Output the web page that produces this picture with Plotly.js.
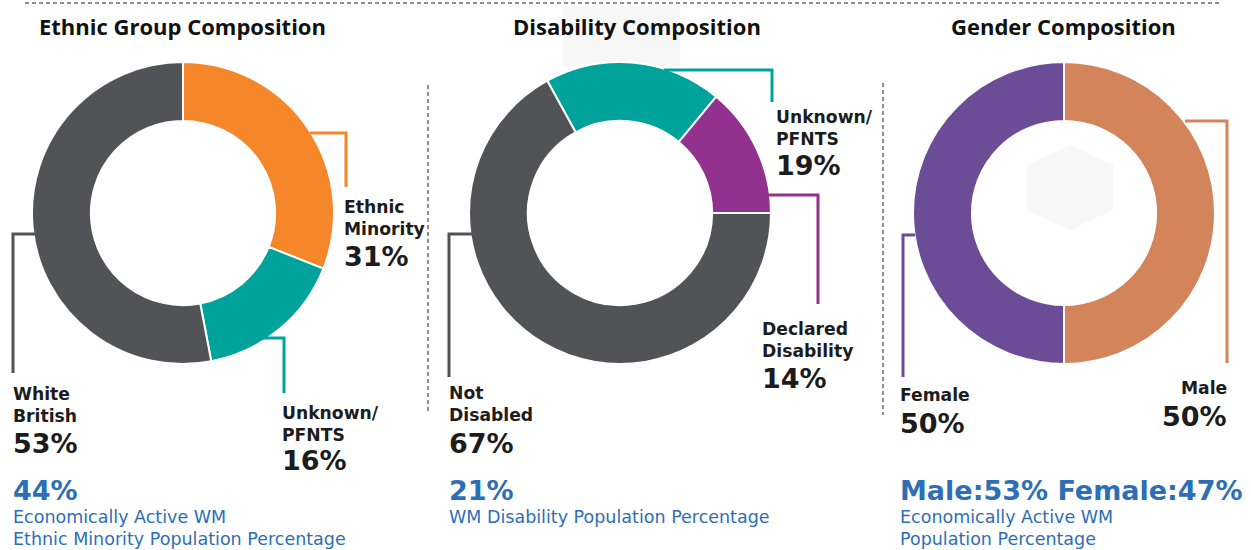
<!DOCTYPE html>
<html><head><meta charset="utf-8">
<script src="https://cdn.plot.ly/plotly-3.0.1.min.js"></script>
<style>html,body{margin:0;padding:0;background:#fff;}#chart{width:1251px;height:550px;}</style>
</head><body><div id="chart"></div>
<script>
// ---- data ----
const chartTitles = ["Ethnic Group Composition", "Disability Composition", "Gender Composition"];

const ethnicLabels = ["Ethnic<br>Minority", "Unknown/<br>PFNTS", "White<br>British"];
const ethnicValues = [31, 16, 53];
const ethnicColors = ["#F5862A", "#00A39B", "#525357"];

const disabilityLabels = ["Unknown/<br>PFNTS", "Declared<br>Disability", "Not<br>Disabled"];
const disabilityValues = [19, 14, 67];
const disabilityColors = ["#00A39B", "#93318E", "#525357"];

const genderLabels = ["Male", "Female"];
const genderValues = [50, 50];
const genderColors = ["#D4845B", "#6B4C97"];

const headlineValues = ["44%", "21%", "Male:53% Female:47%"];
const headlineNotes = [["Economically Active WM", "Ethnic Minority Population Percentage"],
                       ["WM Disability Population Percentage"],
                       ["Economically Active WM", "Population Percentage"]];

// ---- layout helpers ----
const W = 1251, H = 550;
const px = x => x / W, py = y => 1 - y / H;
const TITLE_FONT = "Open Sans", LABEL_FONT = "DejaVu Sans";
const DARK = "#1c1c1c", BLUE = "#2E6EB5";

function pie(labels, values, colors, cx, rotation) {
  return {
    type: "pie", labels: labels, values: values, sort: false, direction: "clockwise",
    rotation: rotation, hole: 0.61, textinfo: "none", hoverinfo: "none", showlegend: false,
    marker: {colors: colors, line: {color: "#ffffff", width: 2}},
    domain: {x: [px(cx - 151), px(cx + 151)], y: [py(364), py(62)]}
  };
}
// disability: purple slice ends at 3 o'clock
const disRot = 90 - (disabilityValues[0] + disabilityValues[1]) * 3.6;
const data = [
  pie(ethnicLabels, ethnicValues, ethnicColors, 183, 0),
  pie(disabilityLabels, disabilityValues, disabilityColors, 620, disRot),
  pie(genderLabels, genderValues, genderColors, 1064, 0)
];

const shapes = [];
const conv = d => d.replace(/(-?\d+(\.\d+)?),(-?\d+(\.\d+)?)/g, (m, a, _, b) => px(+a) + "," + py(+b));
function path(d, color) {
  shapes.push({type: "path", xref: "paper", yref: "paper", path: conv(d), line: {color: color, width: 3}});
}
function dashed(x0, y0, x1, y1) {
  shapes.push({type: "line", xref: "paper", yref: "paper", x0: px(x0), y0: py(y0), x1: px(x1), y1: py(y1),
    line: {color: "#6a6a6a", width: 1.5, dash: "4px,3px"}});
}
// very faint watermark shapes
function blob(d) {
  shapes.push({type: "path", xref: "paper", yref: "paper", path: conv(d), fillcolor: "#f7f7f8", line: {width: 0}, layer: "below"});
}
blob("M 563,6 L 680,6 L 680,66 L 563,66 Z");
blob("M 1027,165 L 1070,145 L 1113,165 L 1113,210 L 1070,230 L 1027,210 Z");

dashed(25, 3, 1222, 3);
dashed(428, 85, 428, 413);
dashed(883, 83, 883, 415);

// connectors
path("M 310,133 L 346,133 L 346,187", ethnicColors[0]);
path("M 262,338 L 284,338 L 284,393", ethnicColors[1]);
path("M 40,234 L 13,234 L 13,373", ethnicColors[2]);
path("M 664,70 L 772,70 L 772,102", disabilityColors[0]);
path("M 768,195 L 818,195 L 818,304", disabilityColors[1]);
path("M 472,234 L 449,234 L 449,377", disabilityColors[2]);
path("M 1185,121 L 1227,121 L 1227,363", genderColors[0]);
path("M 915,235 L 903,235 L 903,377", genderColors[1]);

const ann = [];
// place a text so that its first baseline sits at y (pixels); asc = ascent of first line in px
function text(x, baseline, asc, str, font, xanchor) {
  ann.push({xref: "paper", yref: "paper", x: px(x), y: py(baseline - asc - 1), text: str, showarrow: false,
    xanchor: xanchor || "left", yanchor: "top", align: xanchor === "right" ? "right" : "left", font: font});
}
const ASC = 0.928; // DejaVu Sans ascent (em)
const span = (t, size, weight) =>
  `<span style="font-size:${size}px;font-weight:${weight}">${t}</span>`;
const pct = v => v + "%";

// titles
chartTitles.forEach((t, i) => {
  ann.push({xref: "paper", yref: "paper", x: px([182, 637, 1063][i]), y: py(26), text: t, showarrow: false,
    xanchor: "center", yanchor: "middle", font: {family: TITLE_FONT, size: 22, color: "#111", weight: 700}});
});

// slice labels: name lines, then the big percentage
const NAME = 17.2, PCT = 27;
function sliceLabel(x, nameBase, pctBase, name, value, anchor) {
  text(x, nameBase, ASC * NAME, name, {family: LABEL_FONT, size: NAME, color: DARK, weight: 700}, anchor);
  text(x, pctBase, ASC * PCT, pct(value), {family: LABEL_FONT, size: PCT, color: DARK, weight: 700}, anchor);
}
sliceLabel(342, 212, 265, ethnicLabels[0], ethnicValues[0]);
sliceLabel(280, 418, 469, ethnicLabels[1], ethnicValues[1]);
sliceLabel(11, 399, 452, ethnicLabels[2], ethnicValues[2]);
sliceLabel(774, 122, 174, disabilityLabels[0], disabilityValues[0]);
sliceLabel(760, 334, 387, disabilityLabels[1], disabilityValues[1]);
sliceLabel(447, 398, 452, disabilityLabels[2], disabilityValues[2]);
sliceLabel(1229, 393, 425, genderLabels[0], genderValues[0], "right");
sliceLabel(898, 400, 432, genderLabels[1], genderValues[1]);

// headline figures with explanatory notes (one block, ~22.6px line pitch)
const HEAD = 27, NOTE = 17.5;
function headline(x, i) {
  const lines = [span(headlineValues[i], HEAD, 700)].concat(headlineNotes[i].map(s => span(s, NOTE, 400)));
  text(x, 499, ASC * HEAD, lines.join("<br>"), {family: LABEL_FONT, size: 17.4, color: BLUE});
}
headline(11, 0);
headline(447, 1);
headline(898, 2);

const layout = {
  width: W, height: H, margin: {l: 0, r: 0, t: 0, b: 0},
  paper_bgcolor: "#ffffff", plot_bgcolor: "#ffffff",
  shapes: shapes, annotations: ann, showlegend: false
};
Plotly.newPlot("chart", data, layout, {displayModeBar: false, staticPlot: true});
</script></body></html>
